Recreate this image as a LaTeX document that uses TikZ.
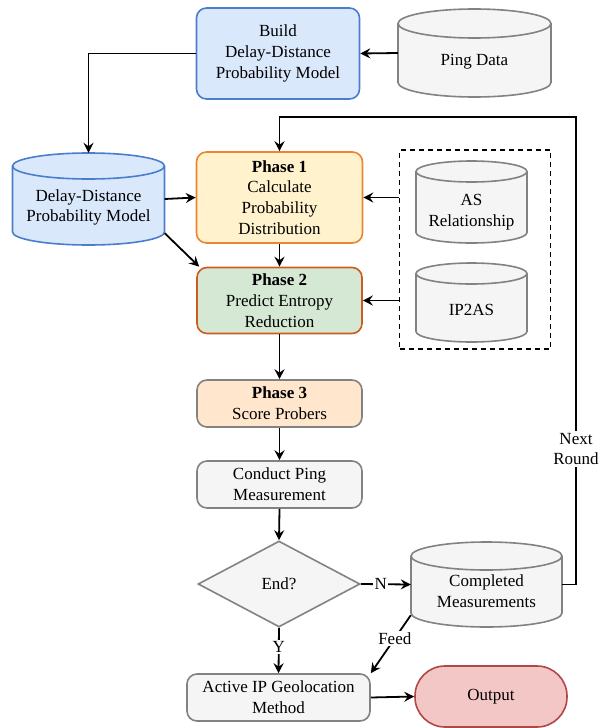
\documentclass[tikz,border=0pt]{standalone}
\usepackage{fontspec}
\setmainfont{Liberation Serif}
\usetikzlibrary{arrows.meta,shapes.geometric,calc}

\definecolor{bluefill}{HTML}{DAE8FC}
\definecolor{bluedraw}{RGB}{74,126,204}
\definecolor{yelfill}{HTML}{FFF2CC}
\definecolor{orgdraw}{RGB}{236,132,50}
\definecolor{grnfill}{HTML}{D5E8D4}
\definecolor{rustdraw}{RGB}{204,92,30}
\definecolor{peachfill}{HTML}{FFE6CC}
\definecolor{grayfill}{HTML}{F5F5F5}
\definecolor{graydraw}{RGB}{130,130,130}
\definecolor{redfill}{HTML}{F3C7C6}
\definecolor{reddraw}{RGB}{176,72,70}

\tikzset{
  txt/.style={font=\fontsize{17}{20.8}\selectfont, align=center, inner sep=0pt},
  procbox/.style={txt, draw, rounded corners=10pt, line width=1.6pt},
  cylblue/.style={draw=bluedraw, fill=bluefill, line width=1.6pt},
  cylgray/.style={draw=graydraw, fill=grayfill, line width=1.6pt},
  arr/.style={draw, line width=1.8pt, -{Stealth[length=10pt,width=10pt,inset=3.5pt]}},
  lbl/.style={txt, fill=white, inner sep=1.5pt},
}

% name, cx, top, w, h, ry, style, text, text shift
\newcommand{\mycyl}[9]{%
  \path[#7] ({#2-#4/2},{-(#3)-#6}) -- ({#2-#4/2},{-(#3)-(#5)+#6})
    arc[start angle=180,end angle=360,x radius={#4/2},y radius={#6}]
    -- ({#2+#4/2},{-(#3)-#6})
    arc[start angle=0,end angle=180,x radius={#4/2},y radius={#6}] -- cycle;
  \draw[#7, fill=none] ({#2-#4/2},{-(#3)-#6})
    arc[start angle=180,end angle=360,x radius={#4/2},y radius={#6}];
  \node[inner sep=0pt, minimum width=#4pt, minimum height=#5pt] (#1) at (#2,{-(#3)-(#5)/2}) {};
  \node[txt] (#1-t) at ([yshift=-#9pt]#1.center) {#8};
}

\begin{document}
\begin{tikzpicture}[x=1pt,y=1pt]
\useasboundingbox (0,0) rectangle (605,-728);

% process boxes
\node[procbox, draw=bluedraw, fill=bluefill, minimum width=163pt, minimum height=91pt] (build) at (278,-53.5) {Build\\Delay-Distance\\Probability Model};
\node[procbox, draw=orgdraw, fill=yelfill, minimum width=166pt, minimum height=91pt] (phase1) at (279.5,-197.5) {\textbf{Phase 1}\\Calculate\\Probability\\Distribution};
\node[procbox, draw=rustdraw, fill=grnfill, minimum width=165pt, minimum height=66pt] (phase2) at (279.5,-300.5) {\textbf{Phase 2}\\Predict Entropy\\Reduction};
\node[procbox, draw=graydraw, fill=peachfill, minimum width=165pt, minimum height=47pt] (phase3) at (279.5,-403.5) {\textbf{Phase 3}\\Score Probers};
\node[procbox, draw=graydraw, fill=grayfill, minimum width=165pt, minimum height=47pt] (conduct) at (279.5,-484.5) {Conduct Ping\\Measurement};
\node[txt, diamond, draw=graydraw, fill=grayfill, line width=1.6pt, minimum width=162pt, minimum height=86pt, aspect=1.88] (diamond) at (279,-584) {End?};
\node[procbox, draw=graydraw, fill=grayfill, minimum width=183pt, minimum height=47pt] (active) at (278.5,-697.5) {Active IP Geolocation\\Method};
\node[txt, draw=reddraw, fill=redfill, line width=1.6pt, rounded corners=30pt, minimum width=152pt, minimum height=61pt] (output) at (491,-696.5) {Output};

% dashed group
\node[draw, dash pattern=on 5pt off 4pt, line width=1.3pt, minimum width=151pt, minimum height=199pt] (dashbox) at (475,-249.5) {};

% cylinders
\mycyl{ping}{474.5}{9}{153}{88}{14.5}{cylgray}{Ping Data}{9}
\mycyl{dd}{88.5}{153}{152}{92}{13}{cylblue}{Delay-Distance\\Probability Model}{8.5}
\mycyl{asrel}{471.5}{161}{111}{82}{10.5}{cylgray}{AS\\Relationship}{10}
\mycyl{ip2as}{471.5}{263}{111}{79}{10.5}{cylgray}{IP2AS}{7}
\mycyl{completed}{486.5}{542}{151}{85}{14}{cylgray}{Completed\\Measurements}{7}

% connectors
\draw[arr] (ping.west) -- (build.east);
\draw[arr] (build.west) -| (dd.north);
\draw[arr] (dd.east) -- (phase1.west);
\draw[arr] (dashbox.west |- phase1.east) -- (phase1.east);
\draw[arr] (dashbox.west |- phase2.east) -- (phase2.east);
\draw[arr] (phase1.south) -- (phase2.north);
\draw[arr] ([yshift=12pt]dd.south east) -- ([xshift=3pt]phase2.north west);
\draw[arr] (phase2.south) -- (phase3.north);
\draw[arr] (phase3.south) -- (conduct.north);
\draw[arr] (conduct.south) -- (diamond.north);
\draw[arr] (diamond.east) -- node[lbl, pos=0.4] (lblN) {N} (completed.west);
\draw[arr] (diamond.south) -- node[lbl, pos=0.43] (lblY) {Y} (active.north);
\draw[arr] ([yshift=12pt]completed.south west) -- node[lbl, pos=0.4] (lblFeed) {Feed} (active.north east);
\coordinate (loopc) at (576,-117);
\draw[arr] (completed.east) -| (loopc) -| (phase1.north);
\node[lbl] (lblNext) at (576,-449) {Next\\Round};
\draw[arr] (active.east) -- (output.west);
\end{tikzpicture}
\end{document}
